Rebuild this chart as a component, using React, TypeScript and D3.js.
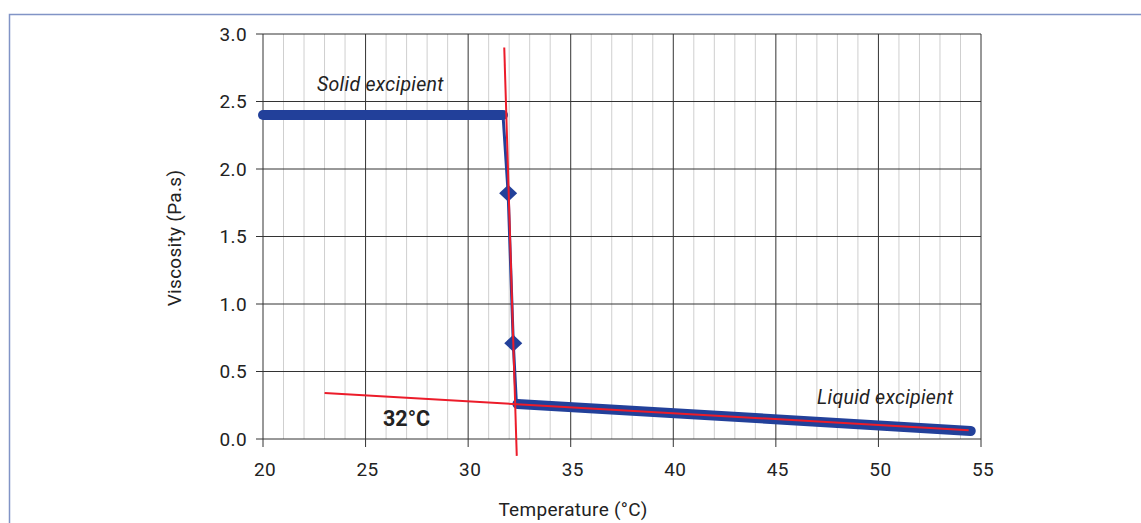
import React from 'react';
import * as d3 from 'd3';

// melting curve of the excipient
const solidTemp = [20, 31.7];
const solidVisc = [2.4, 2.4];
const transitionTemp = [31.7, 31.95, 32.2, 32.35];
const transitionVisc = [2.4, 1.82, 0.71, 0.27];
const liquidTemp = [32.4, 54.5];
const liquidVisc = [0.26, 0.06];
const markerTemp = [31.95, 32.2];
const markerVisc = [1.82, 0.71];

// tangent lines used to locate the melting point
const meltTangentTemp = [31.76, 32.37];
const meltTangentVisc = [2.9, -0.125];
const liquidTangentTemp = [23, 54.4];
const liquidTangentVisc = [0.34, 0.065];

const xTicks = [20, 25, 30, 35, 40, 45, 50, 55];
const xMinor = d3.range(21, 55);
const yTicks = [0, 0.5, 1, 1.5, 2, 2.5, 3];

const W = 1141;
const H = 523;
const left = 263, right = 981, top = 34, bottom = 439;
const blue = '#22409a';
const red = '#ec1c2a';
const font = 'Roboto, sans-serif';

const App = () => {
  const x = d3.scaleLinear().domain([20, 55]).range([left, right]);
  const y = d3.scaleLinear().domain([0, 3]).range([bottom, top]);

  const line = d3.line<[number, number]>()
    .x(d => x(d[0]))
    .y(d => y(d[1]));

  const zip = (a: number[], b: number[]) => a.map((v, i) => [v, b[i]] as [number, number]);

  return (
    <svg width={W} height={H} style={{ position: 'absolute', left: 0, top: 0, background: '#fff' }}>
      {/* frame */}
      <path d={`M9.5,${H} V14.5 H${W}`} fill="none" stroke="#8194c6" strokeWidth={1.5} />

      {/* minor vertical grid */}
      {xMinor.filter(v => v % 5 !== 0).map(v => (
        <line key={'m' + v} x1={x(v)} x2={x(v)} y1={top} y2={bottom} stroke="#cfcfcf" strokeWidth={1} />
      ))}
      {/* major vertical grid + ticks */}
      {xTicks.map(v => (
        <line key={'v' + v} x1={x(v)} x2={x(v)} y1={top} y2={bottom + 8} stroke="#333" strokeWidth={1} />
      ))}
      {/* horizontal grid + ticks */}
      {yTicks.map(v => (
        <line key={'h' + v} x1={left - 7} x2={right} y1={y(v)} y2={y(v)} stroke="#333" strokeWidth={1} />
      ))}

      {/* tick labels */}
      {xTicks.map(v => (
        <text key={'xl' + v} x={x(v) + 2} y={476} textAnchor="middle" fontFamily={font} fontSize={19} letterSpacing={0.4} fill="#222">
          {v}
        </text>
      ))}
      {yTicks.map(v => (
        <text key={'yl' + v} x={247} y={y(v)} dy="0.35em" textAnchor="end" fontFamily={font} fontSize={19} letterSpacing={0.4} fill="#222">
          {v.toFixed(1)}
        </text>
      ))}

      {/* axis titles */}
      <text x={573} y={516} textAnchor="middle" fontFamily={font} fontSize={19} letterSpacing={0.3} fill="#222">
        Temperature (°C)
      </text>
      <text transform={`translate(181,238) rotate(-90)`} textAnchor="middle" fontFamily={font} fontSize={19} letterSpacing={0.3} fill="#222">
        Viscosity (Pa.s)
      </text>

      {/* data */}
      <path d={line(zip(solidTemp, solidVisc)) || ''} fill="none" stroke={blue} strokeWidth={10} strokeLinecap="round" />
      <path d={line(zip(transitionTemp, transitionVisc)) || ''} fill="none" stroke={blue} strokeWidth={3} />
      <path d={line(zip(liquidTemp, liquidVisc)) || ''} fill="none" stroke={blue} strokeWidth={10} strokeLinecap="round" />
      {zip(markerTemp, markerVisc).map((d, i) => (
        <path key={'mk' + i} transform={`translate(${x(d[0])},${y(d[1])})`} d="M0,-8.5L9,0L0,8.5L-9,0Z" fill={blue} />
      ))}

      {/* tangents */}
      <path d={line(zip(meltTangentTemp, meltTangentVisc)) || ''} fill="none" stroke={red} strokeWidth={2} />
      <path d={line(zip(liquidTangentTemp, liquidTangentVisc)) || ''} fill="none" stroke={red} strokeWidth={2} />

      {/* annotations */}
      <text x={317} y={91} fontFamily={font} fontSize={19.5} letterSpacing={0.3} fontStyle="italic" fill="#222">Solid excipient</text>
      <text x={817} y={404} fontFamily={font} fontSize={19.5} letterSpacing={0.3} fontStyle="italic" fill="#222">Liquid excipient</text>
      <text x={383} y={426} fontFamily={font} fontSize={21.5} fontWeight="bold" fill="#222">32°C</text>
    </svg>
  );
};

export default App;
